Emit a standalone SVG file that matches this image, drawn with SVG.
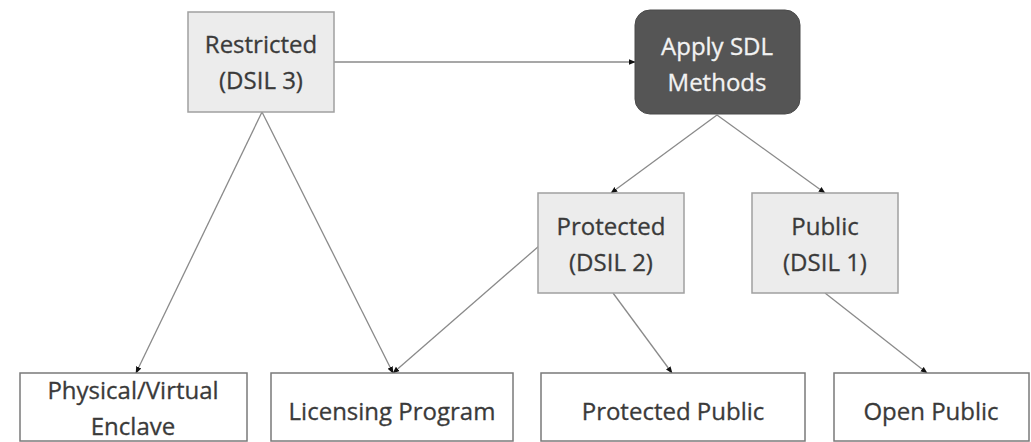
<svg xmlns="http://www.w3.org/2000/svg" width="1031" height="442" viewBox="0 0 1031 442">
  <defs>
    <marker id="arrow" viewBox="0 0 10 10" refX="9" refY="5" markerWidth="7" markerHeight="7" orient="auto-start-reverse" markerUnits="userSpaceOnUse">
      <path d="M0,1 L10,5 L0,9 Z" fill="#111"/>
    </marker>
  </defs>
  <style>
    .lvl { fill: #ececec; stroke: #a0a0a0; stroke-width: 1.5; }
    .out { fill: #ffffff; stroke: #7a7a7a; stroke-width: 1.5; }
    .dark { fill: #555555; stroke: #4a4a4a; stroke-width: 1; }
    .t { font-family: "Open Sans", "Liberation Sans", sans-serif; font-size: 24px; fill: #3a3a3a; stroke: #3a3a3a; stroke-width: 0.3; text-anchor: middle; }
    .tw { fill: #f2f2f2; stroke: #f2f2f2; }
    .edge { fill: none; stroke: #8a8a8a; stroke-width: 1.3; marker-end: url(#arrow); }
  </style>

  <g id="connectors">
    <line class="edge" x1="334" y1="62" x2="635" y2="62"/>
    <line class="edge" x1="262" y1="112" x2="136" y2="373"/>
    <line class="edge" x1="262" y1="112" x2="393" y2="373"/>
    <line class="edge" x1="539" y1="246" x2="393" y2="373"/>
    <line class="edge" x1="717" y1="115" x2="611" y2="193"/>
    <line class="edge" x1="717" y1="115" x2="825" y2="193"/>
    <line class="edge" x1="613" y1="293" x2="672" y2="373"/>
    <line class="edge" x1="825" y1="293" x2="927" y2="373"/>
  </g>

  <g id="restricted">
    <rect class="lvl" x="188" y="12" width="146" height="100"/>
    <text class="t" x="261" y="53">Restricted</text>
    <text class="t" x="261" y="89">(DSIL 3)</text>
  </g>

  <g id="apply-sdl">
    <rect class="dark" x="635" y="10" width="165" height="104" rx="15" ry="15"/>
    <text class="t tw" x="717" y="55">Apply SDL</text>
    <text class="t tw" x="717" y="91">Methods</text>
  </g>

  <g id="protected">
    <rect class="lvl" x="538" y="193" width="146" height="100"/>
    <text class="t" x="611" y="235">Protected</text>
    <text class="t" x="611" y="271">(DSIL 2)</text>
  </g>

  <g id="public">
    <rect class="lvl" x="752" y="193" width="146" height="100"/>
    <text class="t" x="825" y="235">Public</text>
    <text class="t" x="825" y="271">(DSIL 1)</text>
  </g>

  <g id="enclave">
    <rect class="out" x="20" y="373" width="227" height="68"/>
    <text class="t" x="133" y="399">Physical/Virtual</text>
    <text class="t" x="133" y="435">Enclave</text>
  </g>

  <g id="licensing">
    <rect class="out" x="271" y="373" width="242" height="68"/>
    <text class="t" x="392" y="420">Licensing Program</text>
  </g>

  <g id="protected-public">
    <rect class="out" x="541" y="373" width="264" height="68"/>
    <text class="t" x="673" y="420">Protected Public</text>
  </g>

  <g id="open-public">
    <rect class="out" x="834" y="373" width="195" height="68"/>
    <text class="t" x="931" y="420">Open Public</text>
  </g>
</svg>
